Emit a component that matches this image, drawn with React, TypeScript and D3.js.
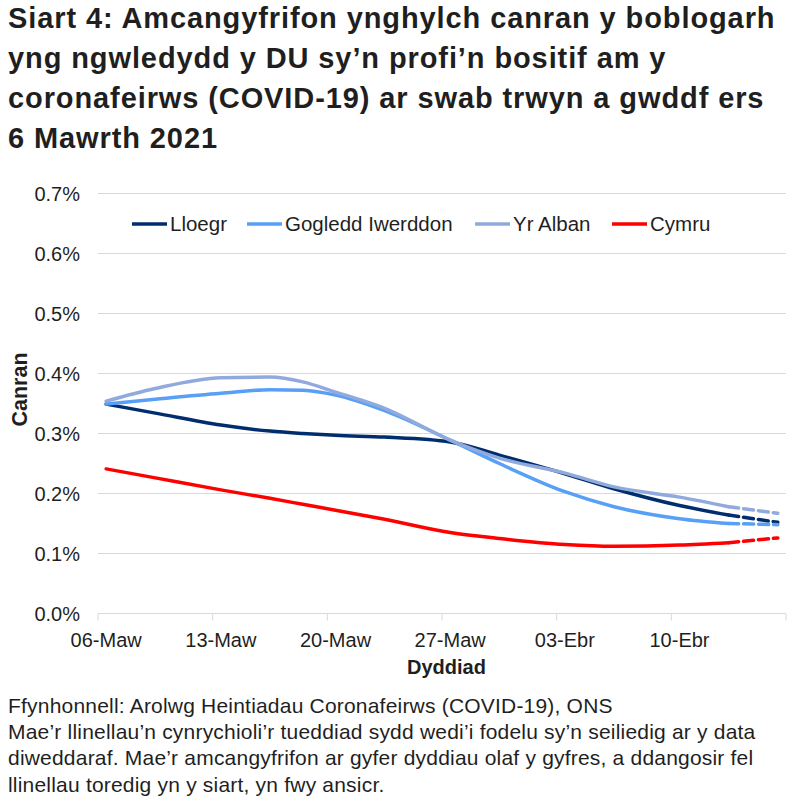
import * as d3 from 'd3';

const W = 798;
const H = 802;
const FONT = '"Liberation Sans", Arial, sans-serif';
const TEXT = '#1f1f1f';

const MARGIN = { top: 193.5, right: 12, bottom: 188.5, left: 98 };

const titleLines = [
  'Siart 4: Amcangyfrifon ynghylch canran y boblogarh',
  'yng ngwledydd y DU sy\u2019n profi\u2019n bositif am y',
  'coronafeirws (COVID-19) ar swab trwyn a gwddf ers',
  '6 Mawrth 2021',
];

const footLines = [
  'Ffynhonnell: Arolwg Heintiadau Coronafeirws (COVID-19), ONS',
  'Mae\u2019r llinellau\u2019n cynrychioli\u2019r tueddiad sydd wedi\u2019i fodelu sy\u2019n seiliedig ar y data',
  'diweddaraf. Mae\u2019r amcangyfrifon ar gyfer dyddiau olaf y gyfres, a ddangosir fel',
  'llinellau toredig yn y siart, yn fwy ansicr.',
];

// category axis: one band per day, 06-Maw .. 16-Ebr
const days = d3.timeDays(new Date(2021, 2, 6), new Date(2021, 3, 17));
const dayKey = d3.timeFormat('%Y-%m-%d');

const monthCy: Record<number, string> = { 2: 'Maw', 3: 'Ebr' };
const tickLabel = (d: Date) => `${d3.timeFormat('%d')(d)}-${monthCy[d.getMonth()]}`;

// dates (values in %)
const sampleDates = [
  '2021-03-06', '2021-03-09', '2021-03-13', '2021-03-16', '2021-03-18', '2021-03-20', '2021-03-23',
  '2021-03-27', '2021-03-30', '2021-04-03', '2021-04-06', '2021-04-10', '2021-04-13', '2021-04-16',
];
const lloegr = [0.349, 0.334, 0.314, 0.304, 0.300, 0.297, 0.294, 0.286, 0.264, 0.233, 0.208, 0.180, 0.164, 0.152];
const gogleddIwerddon = [0.349, 0.357, 0.367, 0.373, 0.372, 0.364, 0.338, 0.289, 0.250, 0.203, 0.178, 0.158, 0.150, 0.148];
const yrAlban = [0.354, 0.375, 0.393, 0.394, 0.386, 0.369, 0.342, 0.289, 0.259, 0.234, 0.211, 0.194, 0.178, 0.167];
const cymru = [0.241, 0.226, 0.206, 0.192, 0.182, 0.172, 0.157, 0.135, 0.125, 0.115, 0.112, 0.114, 0.118, 0.126];

// last modelled days shown dashed
const dashedFrom = '2021-04-13';

const yTicks = [0, 0.1, 0.2, 0.3, 0.4, 0.5, 0.6, 0.7];

const series = [
  { name: 'Lloegr', values: lloegr, color: '#002d6e' },
  { name: 'Gogledd Iwerddon', values: gogleddIwerddon, color: '#58a0f5' },
  { name: 'Yr Alban', values: yrAlban, color: '#91aade' },
  { name: 'Cymru', values: cymru, color: '#ff0000' },
];

const legendX = [132, 247, 475, 612];

export default function App() {
  const x = d3
    .scaleBand<string>()
    .domain(days.map(dayKey))
    .range([MARGIN.left, W - MARGIN.right]);
  const y = d3
    .scaleLinear()
    .domain([0, 0.7])
    .range([H - MARGIN.bottom, MARGIN.top]);

  const cx = (k: string) => (x(k) ?? 0) + x.bandwidth() / 2;
  const line = d3
    .line<[string, number]>()
    .x((d) => cx(d[0]))
    .y((d) => y(d[1]))
    .curve(d3.curveMonotoneX);

  const cut = sampleDates.indexOf(dashedFrom);
  const weekStarts = days.filter((_, i) => i % 7 === 0);
  const tickXs = [...weekStarts.map((d) => x(dayKey(d)) ?? 0), W - MARGIN.right];

  return (
    <svg
      width={W}
      height={H}
      style={{ position: 'absolute', left: 0, top: 0, background: '#fff' }}
      fontFamily={FONT}
    >
      {titleLines.map((t, i) => (
        <text
          key={i}
          x={8}
          y={28 + i * 40}
          fontSize={29}
          letterSpacing={0.9}
          fontWeight="bold"
          fill={TEXT}
        >
          {t}
        </text>
      ))}

      {/* gridlines + y labels */}
      {yTicks.map((t) => (
        <g key={t}>
          <line
            x1={MARGIN.left}
            x2={W - MARGIN.right}
            y1={y(t)}
            y2={y(t)}
            stroke="#d9d9d9"
            strokeWidth={1}
          />
          <text x={80} y={y(t)} dy="0.35em" textAnchor="end" fontSize={20} fill={TEXT}>
            {`${t.toFixed(1)}%`}
          </text>
        </g>
      ))}

      {/* x ticks */}
      {tickXs.map((tx, i) => (
        <line key={i} x1={tx} x2={tx} y1={y(0)} y2={y(0) + 7} stroke="#d9d9d9" />
      ))}
      {weekStarts.map((d) => (
        <text
          key={dayKey(d)}
          x={cx(dayKey(d))}
          y={646.5}
          textAnchor="middle"
          fontSize={20}
          fill={TEXT}
        >
          {tickLabel(d)}
        </text>
      ))}

      <text x={446.5} y={674} textAnchor="middle" fontSize={20} fontWeight="bold" fill={TEXT}>
        Dyddiad
      </text>
      <text
        transform={`translate(27,389.5) rotate(-90)`}
        textAnchor="middle"
        fontSize={21.5}
        fontWeight="bold"
        fill={TEXT}
      >
        Canran
      </text>

      {/* lines */}
      {series.map((s) => {
        const pts = sampleDates.map((d, i) => [d, s.values[i]] as [string, number]);
        return (
          <g key={s.name} fill="none" stroke={s.color} strokeWidth={3.5} strokeLinecap="round">
            <path d={line(pts.slice(0, cut + 1)) ?? ''} strokeLinejoin="round" />
            <path d={line(pts.slice(cut)) ?? ''} strokeDasharray="10 5" />
          </g>
        );
      })}

      {/* legend */}
      {series.map((s, i) => (
        <g key={s.name} transform={`translate(${legendX[i]},224)`}>
          <line x1={0} x2={35} y1={0} y2={0} stroke={s.color} strokeWidth={3.5} />
          <text x={38} y={0} dy="0.35em" fontSize={20.5} fill={TEXT}>
            {s.name}
          </text>
        </g>
      ))}

      {footLines.map((t, i) => (
        <text key={i} x={8} y={712.5 + i * 26.4} fontSize={21} letterSpacing={0.2} fill={TEXT}>
          {t}
        </text>
      ))}
    </svg>
  );
}
